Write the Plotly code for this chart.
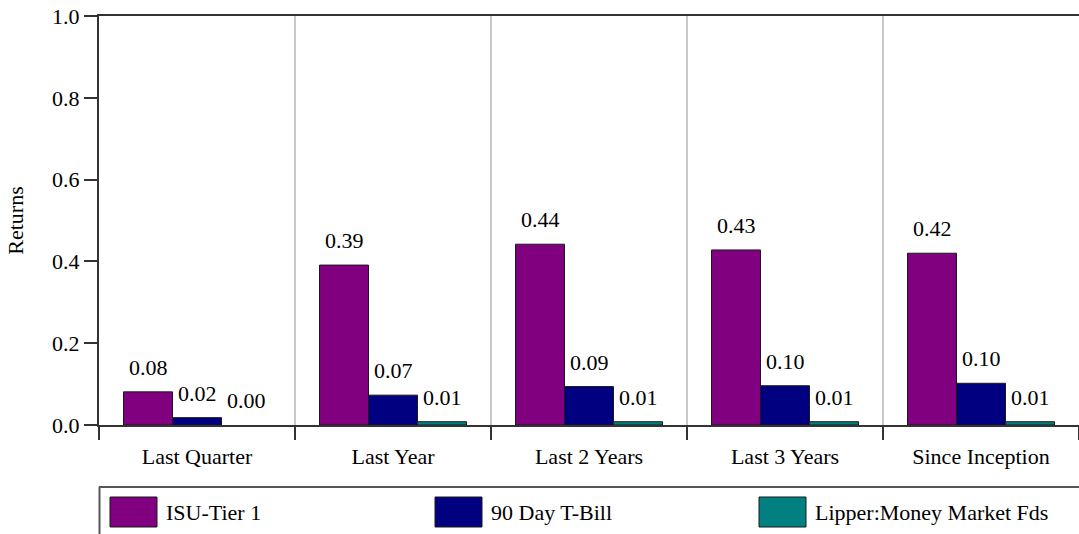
import plotly.graph_objects as go

categories = ["Last Quarter", "Last Year", "Last 2 Years", "Last 3 Years", "Since Inception"]
series_names = ["ISU-Tier 1", "90 Day T-Bill", "Lipper:Money Market Fds"]
isu_tier1 = [0.081, 0.391, 0.442, 0.428, 0.420]
tbill_90 = [0.018, 0.073, 0.094, 0.096, 0.102]
lipper_mm = [0.000, 0.008, 0.008, 0.008, 0.008]
series_values = [isu_tier1, tbill_90, lipper_mm]
colors = ["#800080", "#000080", "#008080"]
y_ticks = [0.0, 0.2, 0.4, 0.6, 0.8, 1.0]

W, H = 1079, 534
ML, MR, MT, MB = 99, 0, 16, 109
BARGAP = 0.25
FONT = "Liberation Serif, Times New Roman, DejaVu Serif, serif"
FS = 22

fig = go.Figure()
for name, vals, col in zip(series_names, series_values, colors):
    fig.add_trace(go.Bar(
        x=categories, y=vals, name=name,
        marker=dict(color=col, line=dict(color="#1a1a1a",
                                         width=[1 if v > 0 else 0 for v in vals])),
        showlegend=False, hoverinfo="x+y+name",
    ))

# value labels above bars
plot_w = W - ML - MR
cat_px = plot_w / len(categories)
bar_px = cat_px * (1 - BARGAP) / len(series_names)
for i, vals in enumerate(series_values):
    off = (i - (len(series_names) - 1) / 2) * bar_px
    for c, v in zip(categories, vals):
        fig.add_annotation(x=c, y=v, text=f"{v:.2f}", showarrow=False,
                           xref="x", yref="y", xshift=off, yshift=10,
                           yanchor="bottom", xanchor="center",
                           font=dict(family=FONT, size=FS, color="#000"))

plot_h = H - MT - MB
def py(p):  # pixel y -> paper y
    return (H - MB - p) / plot_h
def px(p):
    return (p - ML) / plot_w

# legend box
fig.add_shape(type="line", xref="paper", yref="paper",
              x0=px(99), x1=px(1079), y0=py(487), y1=py(487),
              line=dict(color="#555555", width=2))
fig.add_shape(type="line", xref="paper", yref="paper",
              x0=px(99.5), x1=px(99.5), y0=py(487), y1=py(540),
              line=dict(color="#555555", width=2))
legend_x = [110, 435, 759]
for lx, name, col in zip(legend_x, series_names, colors):
    fig.add_shape(type="rect", xref="paper", yref="paper",
                  x0=px(lx), x1=px(lx + 47), y0=py(527), y1=py(497),
                  fillcolor=col, line=dict(color="#1a1a1a", width=1))
    fig.add_annotation(xref="paper", yref="paper", x=px(lx + 54), y=py(512),
                       text=name, showarrow=False, xanchor="left", yanchor="middle",
                       font=dict(family=FONT, size=FS, color="#000"))

fig.update_layout(
    width=W, height=H, barmode="group", bargap=BARGAP, bargroupgap=0,
    margin=dict(l=ML, r=MR, t=MT, b=MB, autoexpand=False),
    plot_bgcolor="white", paper_bgcolor="white",
    font=dict(family=FONT, size=FS, color="#000"),
    showlegend=False,
)
fig.update_xaxes(
    type="category", showline=True, linecolor="#333333", linewidth=2,
    mirror=True, ticks="outside", tickson="boundaries", ticklen=13,
    tickcolor="#333333", tickwidth=2,
    showgrid=True, gridcolor="#c8c8c8", gridwidth=1.5,
    tickfont=dict(family=FONT, size=FS), ticklabelstandoff=11,
)
fig.update_yaxes(
    range=[0, 1.0], tickvals=y_ticks, tickformat=".1f",
    showline=True, linecolor="#333333", linewidth=2,
    ticks="outside", ticklen=13, tickcolor="#333333", tickwidth=2,
    showgrid=False, zeroline=False,
    tickfont=dict(family=FONT, size=FS),
    title=dict(text="Returns", font=dict(family=FONT, size=FS), standoff=22),
)
fig.write_html("out.html", config={"displayModeBar": False},
               post_script="document.body.style.margin='0';document.body.style.overflow='hidden';")
